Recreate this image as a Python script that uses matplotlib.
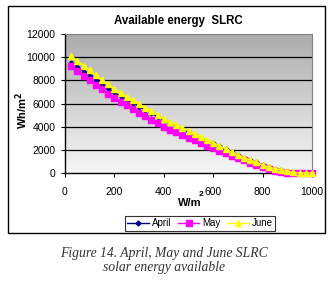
#!/usr/bin/env python3
"""
Available energy SLRC - April, May and June
"""

import numpy as np
import matplotlib
matplotlib.use('Agg')
import matplotlib.pyplot as plt
import matplotlib.patches as patches
from matplotlib.colors import LinearSegmentedColormap

plt.rcParams['font.family'] = ['Liberation Sans', 'DejaVu Sans']

# irradiance steps (W/m2)
irradiance = list(range(25, 1001, 25))

april = [9500, 9130, 8760, 8400, 8040, 7680, 7310, 6950, 6640, 6340,
         6040, 5740, 5440, 5140, 4840, 4550, 4290, 4030, 3770, 3520,
         3270, 3020, 2780, 2550, 2300, 2050, 1800, 1550, 1330, 1120,
         910, 700, 520, 360, 230, 120, 30, 0, 0, 0]

may = [9200, 8800, 8410, 8020, 7630, 7240, 6840, 6450, 6140, 5830,
       5530, 5220, 4920, 4610, 4310, 4000, 3750, 3510, 3270, 3040,
       2810, 2590, 2370, 2160, 1940, 1720, 1510, 1300, 1090, 880,
       680, 490, 320, 180, 70, 0, 0, 0, 0, 0]

june = [10100, 9690, 9280, 8870, 8470, 8070, 7660, 7250, 6920, 6600,
        6280, 5960, 5630, 5310, 5000, 4700, 4430, 4170, 3900, 3640,
        3380, 3120, 2860, 2600, 2340, 2080, 1810, 1550, 1330, 1120,
        910, 700, 510, 380, 280, 160, 50, 0, 0, 0]

x_ticks = [0, 200, 400, 600, 800, 1000]
y_ticks = [0, 2000, 4000, 6000, 8000, 10000, 12000]

fig = plt.figure(figsize=(3.32, 2.81), dpi=100)
fig.patch.set_facecolor('white')

# outer chart frame
frame = patches.Rectangle((8 / 332, 1 - 233 / 281), 317 / 332, 227 / 281,
                          transform=fig.transFigure, fill=False,
                          ec='black', lw=1.0)
fig.add_artist(frame)

ax = fig.add_axes([65 / 332, 1 - 173 / 281, 247 / 332, 139 / 281])

# grey gradient background
cmap = LinearSegmentedColormap.from_list('bg', ['#f6f6f6', '#acacac'])
grad = np.linspace(0, 1, 256).reshape(-1, 1)
ax.imshow(grad, extent=[0, 1, 0, 1], transform=ax.transAxes, aspect='auto',
          cmap=cmap, origin='lower', zorder=0)

for yv in y_ticks[1:-1]:
    ax.axhline(yv, color='black', lw=0.9, zorder=1)

ax.plot(irradiance, april, color='#000080', marker='D', ms=2.5, lw=1.0,
        label='April', zorder=3, clip_on=False)
ax.plot(irradiance, may, color='#ff00ff', marker='s', ms=4.2, lw=1.0,
        label='May', zorder=4, clip_on=False)
ax.plot(irradiance, june, color='#ffff00', marker='^', ms=4.5, lw=1.0,
        label='June', zorder=5, clip_on=False)

ax.set_xlim(0, 1000)
ax.set_ylim(0, 12000)
ax.set_xticks(x_ticks)
ax.set_yticks(y_ticks)
ax.set_xticklabels([str(v) for v in x_ticks], fontsize=7.5)
ax.set_yticklabels([str(v) for v in y_ticks], fontsize=7.5)
ax.tick_params(axis='both', direction='out', length=3, width=0.8, pad=4)
ax.tick_params(axis='x', pad=7)

for s in ['top', 'right']:
    ax.spines[s].set_color('#808080')
    ax.spines[s].set_linewidth(0.8)
for s in ['left', 'bottom']:
    ax.spines[s].set_color('black')
    ax.spines[s].set_linewidth(1.0)

fig.text(178 / 332, 1 - 21 / 281, 'Available energy  SLRC', ha='center',
         va='center', fontsize=8.3, weight='bold')
fig.text(22 / 332, 1 - 110 / 281, 'Wh/m$^{\\mathbf{2}}$', ha='center',
         va='center', fontsize=8, weight='bold', rotation=90)
fig.text(190 / 332, 1 - 203 / 281, 'W/m', ha='center', va='center',
         fontsize=8, weight='bold')
fig.text(201 / 332, 1 - 194 / 281, '2', ha='center', va='center',
         fontsize=6, weight='bold')

leg = ax.legend(loc='center', bbox_to_anchor=(200 / 332, 1 - 223.5 / 281),
                bbox_transform=fig.transFigure, ncol=3, fontsize=7,
                frameon=True, fancybox=False, edgecolor='black',
                handlelength=2.2, handletextpad=0.3, columnspacing=0.7,
                borderpad=0.25)
leg.get_frame().set_linewidth(0.8)

fig.text(164 / 332, 1 - 253 / 281, 'Figure 14. April, May and June SLRC',
         ha='center', va='center', fontsize=9.8, style='italic',
         family='Liberation Serif', color='#333333')
fig.text(164 / 332, 1 - 268 / 281, 'solar energy available',
         ha='center', va='center', fontsize=9.8, style='italic',
         family='Liberation Serif', color='#333333')

fig.savefig('out.png', dpi=100)
